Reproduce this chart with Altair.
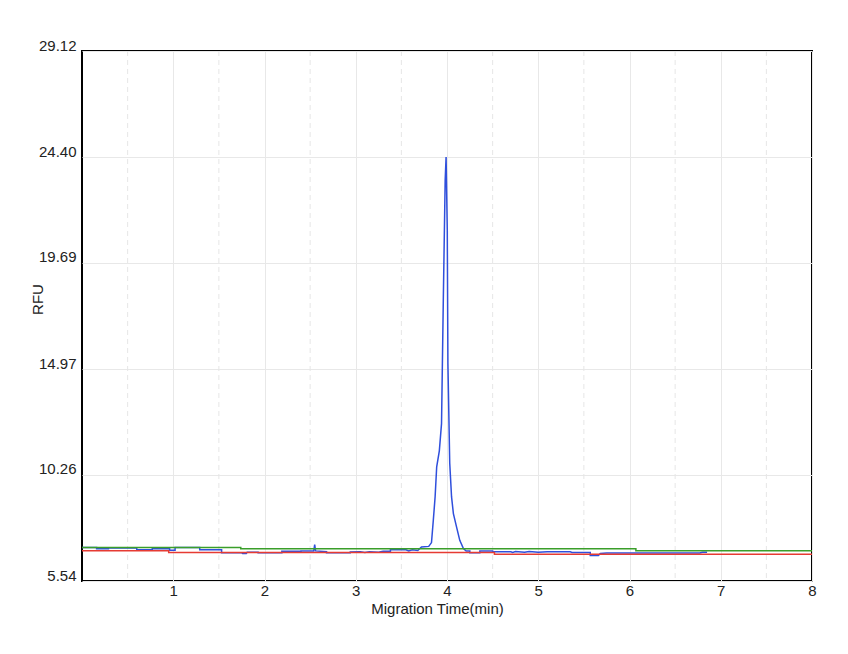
import altair as alt
import pandas as pd

# Blue trace (sample)
blue_x = [0.00, 0.16, 0.16, 0.29, 0.29, 0.60, 0.60, 0.77, 0.77, 0.96, 0.96, 1.02, 1.02, 1.29,
          1.29, 1.53, 1.53, 1.75, 1.76, 1.80, 1.81, 1.93, 1.93, 2.19, 2.19, 2.40, 2.40, 2.54,
          2.55, 2.56, 2.68, 2.68, 2.94, 2.94, 3.05, 3.10, 3.15, 3.25, 3.30, 3.38, 3.38, 3.55,
          3.58, 3.62, 3.68, 3.72, 3.80, 3.83, 3.85, 3.87, 3.887, 3.916, 3.94, 3.96, 3.98, 3.99,
          4.003, 4.01, 4.03, 4.05, 4.07, 4.105, 4.14, 4.18, 4.21, 4.25, 4.25, 4.36, 4.36, 4.50,
          4.50, 4.70, 4.72, 4.75, 4.85, 4.90, 5.00, 5.10, 5.35, 5.37, 5.57, 5.57, 5.66, 5.68,
          5.75, 6.77, 6.80, 6.85]
blue_y = [7.03, 7.03, 6.97, 6.97, 7.01, 7.01, 6.93, 6.93, 6.97, 6.97, 6.91, 6.91, 7.03, 7.03,
          6.93, 6.93, 6.80, 6.80, 6.76, 6.76, 6.82, 6.82, 6.80, 6.80, 6.86, 6.86, 6.88, 6.88,
          7.16, 6.88, 6.84, 6.80, 6.80, 6.83, 6.84, 6.81, 6.84, 6.82, 6.86, 6.86, 6.93, 6.93,
          6.88, 6.93, 6.90, 7.05, 7.08, 7.25, 8.24, 9.30, 10.62, 11.33, 12.54, 18.18, 23.37, 24.40,
          21.14, 15.20, 10.78, 9.28, 8.54, 7.94, 7.35, 6.98, 6.87, 6.87, 6.80, 6.80, 6.88, 6.88,
          6.84, 6.84, 6.81, 6.85, 6.82, 6.85, 6.82, 6.84, 6.84, 6.81, 6.81, 6.68, 6.68, 6.76,
          6.79, 6.79, 6.82, 6.82]

# Green and red traces (step lines)
green_x = [0.00, 1.74, 6.07, 8.00]
green_y = [7.03, 6.97, 6.89, 6.89]
red_x = [0.00, 0.95, 4.52, 8.00]
red_y = [6.89, 6.81, 6.73, 6.73]

# Axis ticks
x_ticks = [1, 2, 3, 4, 5, 6, 7, 8]
x_minor = [0.5, 1.5, 2.5, 3.5, 4.5, 5.5, 6.5, 7.5]
y_ticks = [5.54, 10.26, 14.97, 19.69, 24.40, 29.12]

FONT = "Liberation Sans, Arial, sans-serif"

blue_df = pd.DataFrame({"x": blue_x, "y": blue_y, "o": list(range(len(blue_x)))})
green_df = pd.DataFrame({"x": green_x, "y": green_y})
red_df = pd.DataFrame({"x": red_x, "y": red_y})
minor_df = pd.DataFrame({"x": x_minor})

x_enc = alt.X(
    "x:Q",
    scale=alt.Scale(domain=[0, 8], nice=False, zero=False),
    axis=alt.Axis(
        values=x_ticks, title="Migration Time(min)", ticks=False, domain=False,
        grid=True, gridColor="#e8e8e8", gridWidth=1,
        labelFont=FONT, labelFontSize=15, labelColor="#222", labelPadding=2,
        labelFlush=False,
        titleFont=FONT, titleFontSize=15, titleFontWeight="normal", titleColor="#222",
        titleX=355, titleY=32, titleBaseline="alphabetic",
    ),
)
y_enc = alt.Y(
    "y:Q",
    scale=alt.Scale(domain=[5.54, 29.12], nice=False, zero=False),
    axis=alt.Axis(
        values=y_ticks, format=".2f", title="RFU", ticks=False, domain=False,
        grid=True, gridColor="#e8e8e8", gridWidth=1,
        labelFont=FONT, labelFontSize=15, labelColor="#222", labelPadding=6,
        labelBaseline="alphabetic", labelFlush=False, labelOffset=-1,
        titleFont=FONT, titleFontSize=15, titleFontWeight="normal", titleColor="#222",
        titleX=-40, titleY=248, titleBaseline="alphabetic", titleAngle=270,
    ),
)

minor = alt.Chart(minor_df).mark_rule(color="#e6e6e6", strokeWidth=1, strokeDash=[5, 4]).encode(
    x=x_enc
)
blue = alt.Chart(blue_df).mark_line(color="#2f4fdc", strokeWidth=1.5).encode(
    x=x_enc, y=y_enc, order="o:Q"
)
green = alt.Chart(green_df).mark_line(color="#3a9e2a", strokeWidth=1.5, interpolate="step-after").encode(
    x=x_enc, y=y_enc
)
red = alt.Chart(red_df).mark_line(color="#e63b33", strokeWidth=1.5, interpolate="step-after").encode(
    x=x_enc, y=y_enc
)

chart = alt.layer(minor, blue, green, red).properties(
    width=730,
    height=530,
    autosize=alt.AutoSizeParams(type="none"),
    padding={"left": 74, "top": 43, "right": 28, "bottom": 65},
    background="white",
).configure_view(stroke="black", strokeWidth=2)

chart.save("out.html", embed_options={"renderer": "svg", "actions": False})
